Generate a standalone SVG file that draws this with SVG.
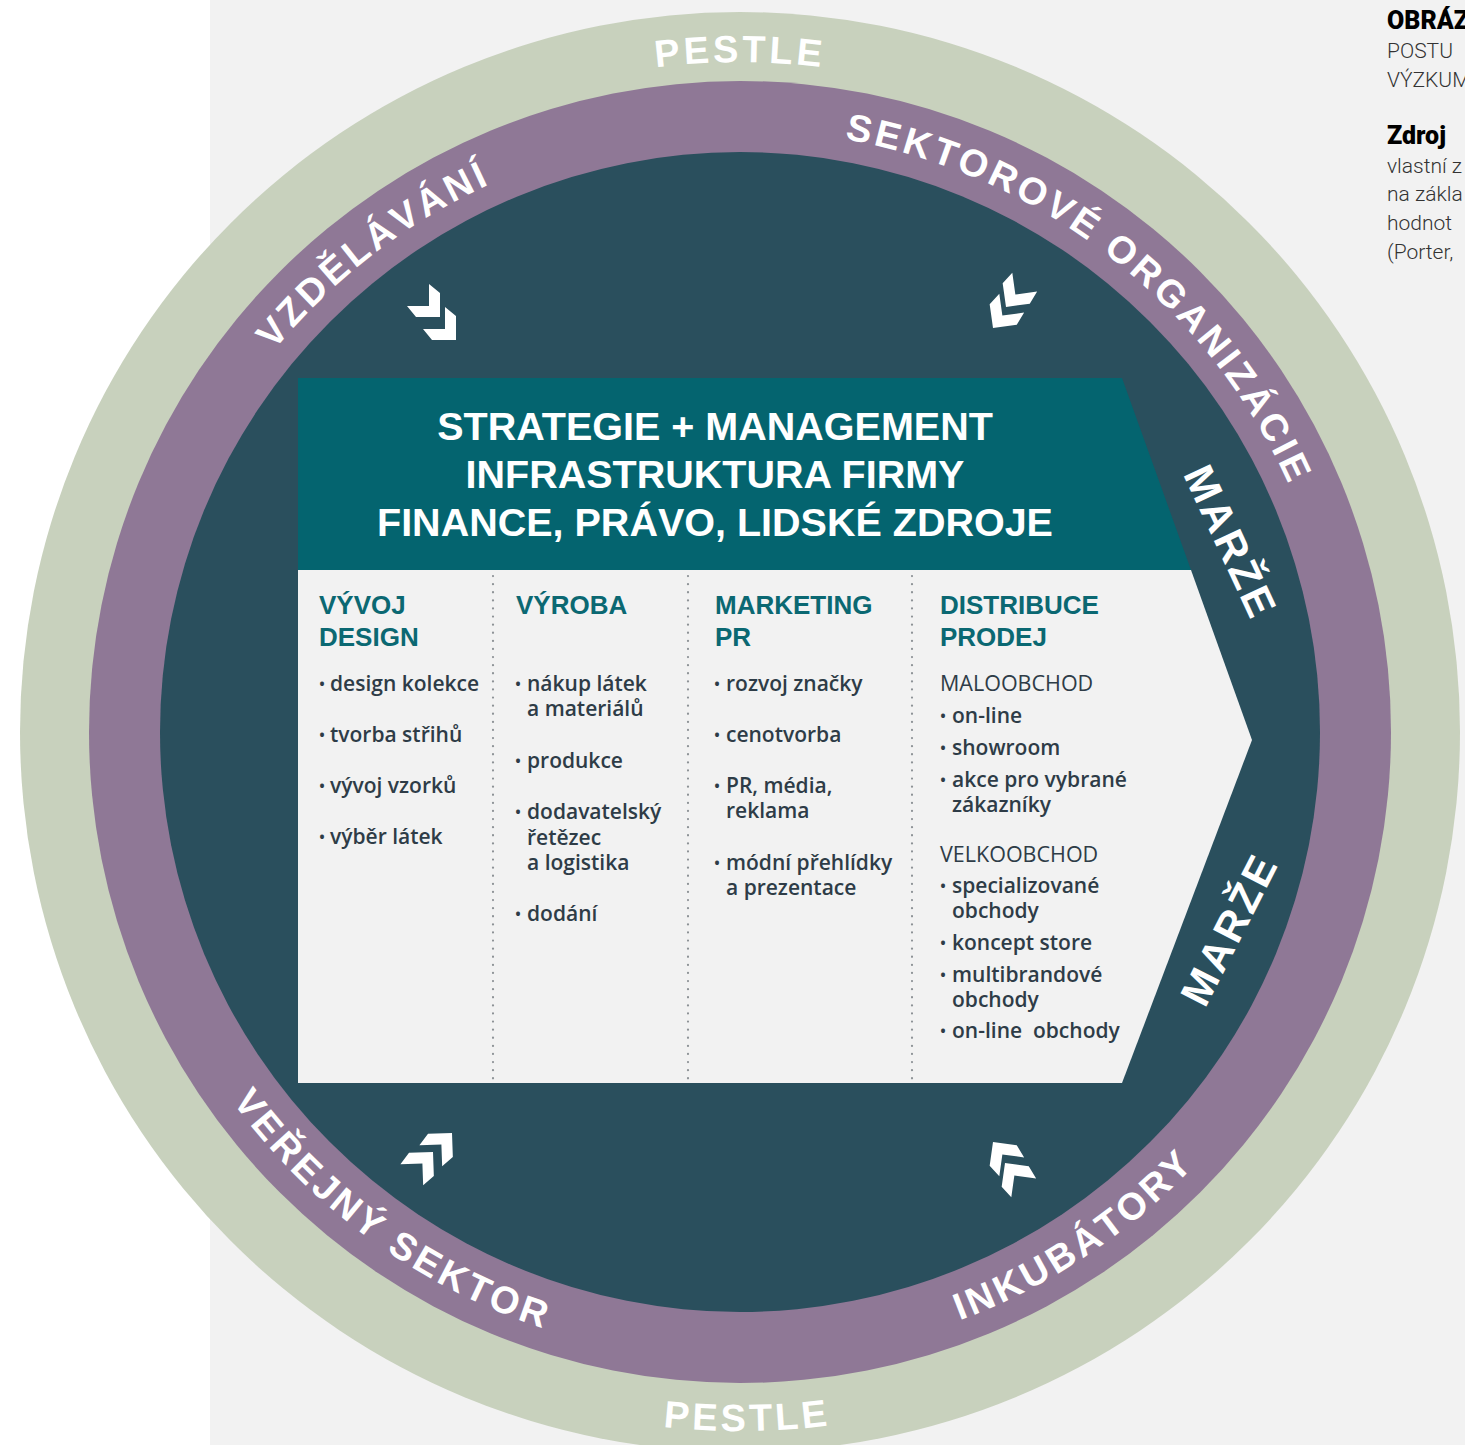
<svg xmlns="http://www.w3.org/2000/svg" width="1465" height="1445" viewBox="0 0 1465 1445">
<defs>
<style>
.hdr{font-family:"Liberation Sans",Arial,sans-serif;font-weight:700;font-size:39.5px;fill:#ffffff;text-anchor:middle}
.col{font-family:"Liberation Sans",Arial,sans-serif;font-weight:700;font-size:26px;fill:#0b6872}
.item{font-family:"Open Sans","Liberation Sans",sans-serif;font-weight:600;font-size:21px;fill:#2e3c47}
.sub{font-family:"Open Sans","Liberation Sans",sans-serif;font-weight:500;font-size:21.5px;fill:#2e3c47}
.bul{font-family:"Open Sans","Liberation Sans",sans-serif;font-weight:600;font-size:16px;fill:#2e3c47;text-anchor:middle}
.ring{font-family:"Liberation Sans",sans-serif;font-weight:700;font-size:38px;fill:#ffffff;letter-spacing:3.5px}
.marze{font-family:"Liberation Sans",sans-serif;font-weight:700;font-size:42px;fill:#ffffff;text-anchor:middle;letter-spacing:3px}
.nb{font-family:Roboto,"Liberation Sans",sans-serif;font-weight:900;font-size:25px;fill:#000000}
.nt{font-family:Roboto,"Liberation Sans",sans-serif;font-weight:300;font-size:21px;fill:#333333}
.dots{stroke:#8d9296;stroke-width:2.2;stroke-linecap:round;stroke-dasharray:0.1 8;fill:none}
.chev{fill:#ffffff}
</style>
<path id="chev" d="M0,0 L24,0 L33,11 L11,11 L11,33 L0,24Z"/>
<path id="pTop" d="M80.2,615.7 A670,670 0 0 1 1399.8,615.7"/>
<path id="pBot" d="M52.9,860.6 A699,699 0 0 0 1429.6,846.2"/>
<path id="pSek" d="M337.2,284.6 A602,602 0 0 1 1271.5,1014.6"/>
<path id="pVzd" d="M206.0,1010.0 A602,602 0 0 1 1146.7,288.1"/>
<path id="pVer" d="M175.6,456.7 A628,628 0 0 0 1176.3,1183.7"/>
<path id="pInk" d="M284.4,1164.3 A628,628 0 0 0 1315.9,481.6"/>
</defs>

<g id="background">
<rect x="0" y="0" width="1465" height="1445" fill="#ffffff"/>
<rect x="210" y="0" width="1255" height="1445" fill="#f2f2f2"/>
</g>

<g id="rings">
<circle cx="740" cy="732" r="720" fill="#c8d1bd"/>
<circle cx="740" cy="732" r="651" fill="#8f7896"/>
<circle cx="740" cy="732" r="580" fill="#2a4f5d"/>
</g>

<g id="ring-labels">
<text class="ring"><textPath href="#pTop" startOffset="50%" text-anchor="middle">PESTLE</textPath></text>
<text class="ring"><textPath href="#pBot" startOffset="50%" text-anchor="middle">PESTLE</textPath></text>
<text class="ring"><textPath href="#pSek" startOffset="50%" text-anchor="middle">SEKTOROVÉ ORGANIZÁCIE</textPath></text>
<text class="ring"><textPath href="#pVzd" startOffset="50%" text-anchor="middle">VZDĚLÁVÁNÍ</textPath></text>
<text class="ring"><textPath href="#pVer" startOffset="50%" text-anchor="middle">VEŘEJNÝ SEKTOR</textPath></text>
<text class="ring"><textPath href="#pInk" startOffset="50%" text-anchor="middle">INKUBÁTORY</textPath></text>
</g>

<g id="chevrons" class="chev">
<use href="#chev" transform="translate(440,317) rotate(180)"/>
<use href="#chev" transform="translate(456,340) rotate(180)"/>
<use href="#chev" transform="translate(1006,307) rotate(-98)"/>
<use href="#chev" transform="translate(993,328) rotate(-98)"/>
<use href="#chev" transform="translate(452,1133) rotate(88)"/>
<use href="#chev" transform="translate(433,1152) rotate(88)"/>
<use href="#chev" transform="translate(993,1142) rotate(8)"/>
<use href="#chev" transform="translate(1005,1163) rotate(8)"/>
</g>

<g id="value-chain">
<polygon points="298,378 1122,378 1191,570 298,570" fill="#04646f"/>
<polygon points="298,570 1191,570 1252,740 1122,1083 298,1083" fill="#f2f2f2"/>
</g>

<g id="header">
<text class="hdr" x="715" y="440">STRATEGIE + MANAGEMENT</text>
<text class="hdr" x="715" y="488">INFRASTRUKTURA FIRMY</text>
<text class="hdr" x="715" y="536">FINANCE, PRÁVO, LIDSKÉ ZDROJE</text>
</g>

<g id="dividers">
<line class="dots" x1="493" y1="576" x2="493" y2="1080"/>
<line class="dots" x1="688" y1="576" x2="688" y2="1080"/>
<line class="dots" x1="912" y1="576" x2="912" y2="1080"/>
</g>

<g id="col-vyvoj">
<text class="col" x="319" y="614">VÝVOJ</text>
<text class="col" x="319" y="646">DESIGN</text>
<text class="bul" x="322" y="690">•</text><text class="item" x="330" y="691">design kolekce</text>
<text class="bul" x="322" y="741">•</text><text class="item" x="330" y="742">tvorba střihů</text>
<text class="bul" x="322" y="792">•</text><text class="item" x="330" y="793">vývoj vzorků</text>
<text class="bul" x="322" y="843">•</text><text class="item" x="330" y="844">výběr látek</text>
</g>

<g id="col-vyroba">
<text class="col" x="516" y="614">VÝROBA</text>
<text class="bul" x="518" y="690">•</text><text class="item" x="527" y="691">nákup látek</text>
<text class="item" x="527" y="716">a materiálů</text>
<text class="bul" x="518" y="767">•</text><text class="item" x="527" y="768">produkce</text>
<text class="bul" x="518" y="818">•</text><text class="item" x="527" y="819">dodavatelský</text>
<text class="item" x="527" y="845">řetězec</text>
<text class="item" x="527" y="870">a logistika</text>
<text class="bul" x="518" y="920">•</text><text class="item" x="527" y="921">dodání</text>
</g>

<g id="col-marketing">
<text class="col" x="715" y="614">MARKETING</text>
<text class="col" x="715" y="646">PR</text>
<text class="bul" x="717" y="690">•</text><text class="item" x="726" y="691">rozvoj značky</text>
<text class="bul" x="717" y="741">•</text><text class="item" x="726" y="742">cenotvorba</text>
<text class="bul" x="717" y="792">•</text><text class="item" x="726" y="793">PR, média,</text>
<text class="item" x="726" y="818">reklama</text>
<text class="bul" x="717" y="869">•</text><text class="item" x="726" y="870">módní přehlídky</text>
<text class="item" x="726" y="895">a prezentace</text>
</g>

<g id="col-distribuce">
<text class="col" x="940" y="614">DISTRIBUCE</text>
<text class="col" x="940" y="646">PRODEJ</text>
<text class="sub" x="940" y="691">MALOOBCHOD</text>
<text class="bul" x="943" y="722">•</text><text class="item" x="952" y="723">on-line</text>
<text class="bul" x="943" y="754">•</text><text class="item" x="952" y="755">showroom</text>
<text class="bul" x="943" y="786">•</text><text class="item" x="952" y="787">akce pro vybrané</text>
<text class="item" x="952" y="812">zákazníky</text>
<text class="sub" x="940" y="862">VELKOOBCHOD</text>
<text class="bul" x="943" y="892">•</text><text class="item" x="952" y="893">specializované</text>
<text class="item" x="952" y="918">obchody</text>
<text class="bul" x="943" y="949">•</text><text class="item" x="952" y="950">koncept store</text>
<text class="bul" x="943" y="981">•</text><text class="item" x="952" y="982">multibrandové</text>
<text class="item" x="952" y="1007">obchody</text>
<text class="bul" x="943" y="1037">•</text><text class="item" x="952" y="1038" xml:space="preserve">on-line  obchody</text>
</g>

<g id="marze">
<text class="marze" transform="translate(1231,542) rotate(65)" y="15">MARŽE</text>
<text class="marze" transform="translate(1229,929) rotate(-63)" y="15">MARŽE</text>
</g>

<g id="note">
<text class="nb" x="1387" y="29">OBRÁZ</text>
<text class="nt" x="1387" y="58">POSTU</text>
<text class="nt" x="1387" y="87">VÝZKUM</text>
<text class="nb" x="1387" y="144">Zdroj</text>
<text class="nt" x="1387" y="173">vlastní z</text>
<text class="nt" x="1387" y="201">na zákla</text>
<text class="nt" x="1387" y="230">hodnot</text>
<text class="nt" x="1387" y="259">(Porter,</text>
</g>
</svg>
